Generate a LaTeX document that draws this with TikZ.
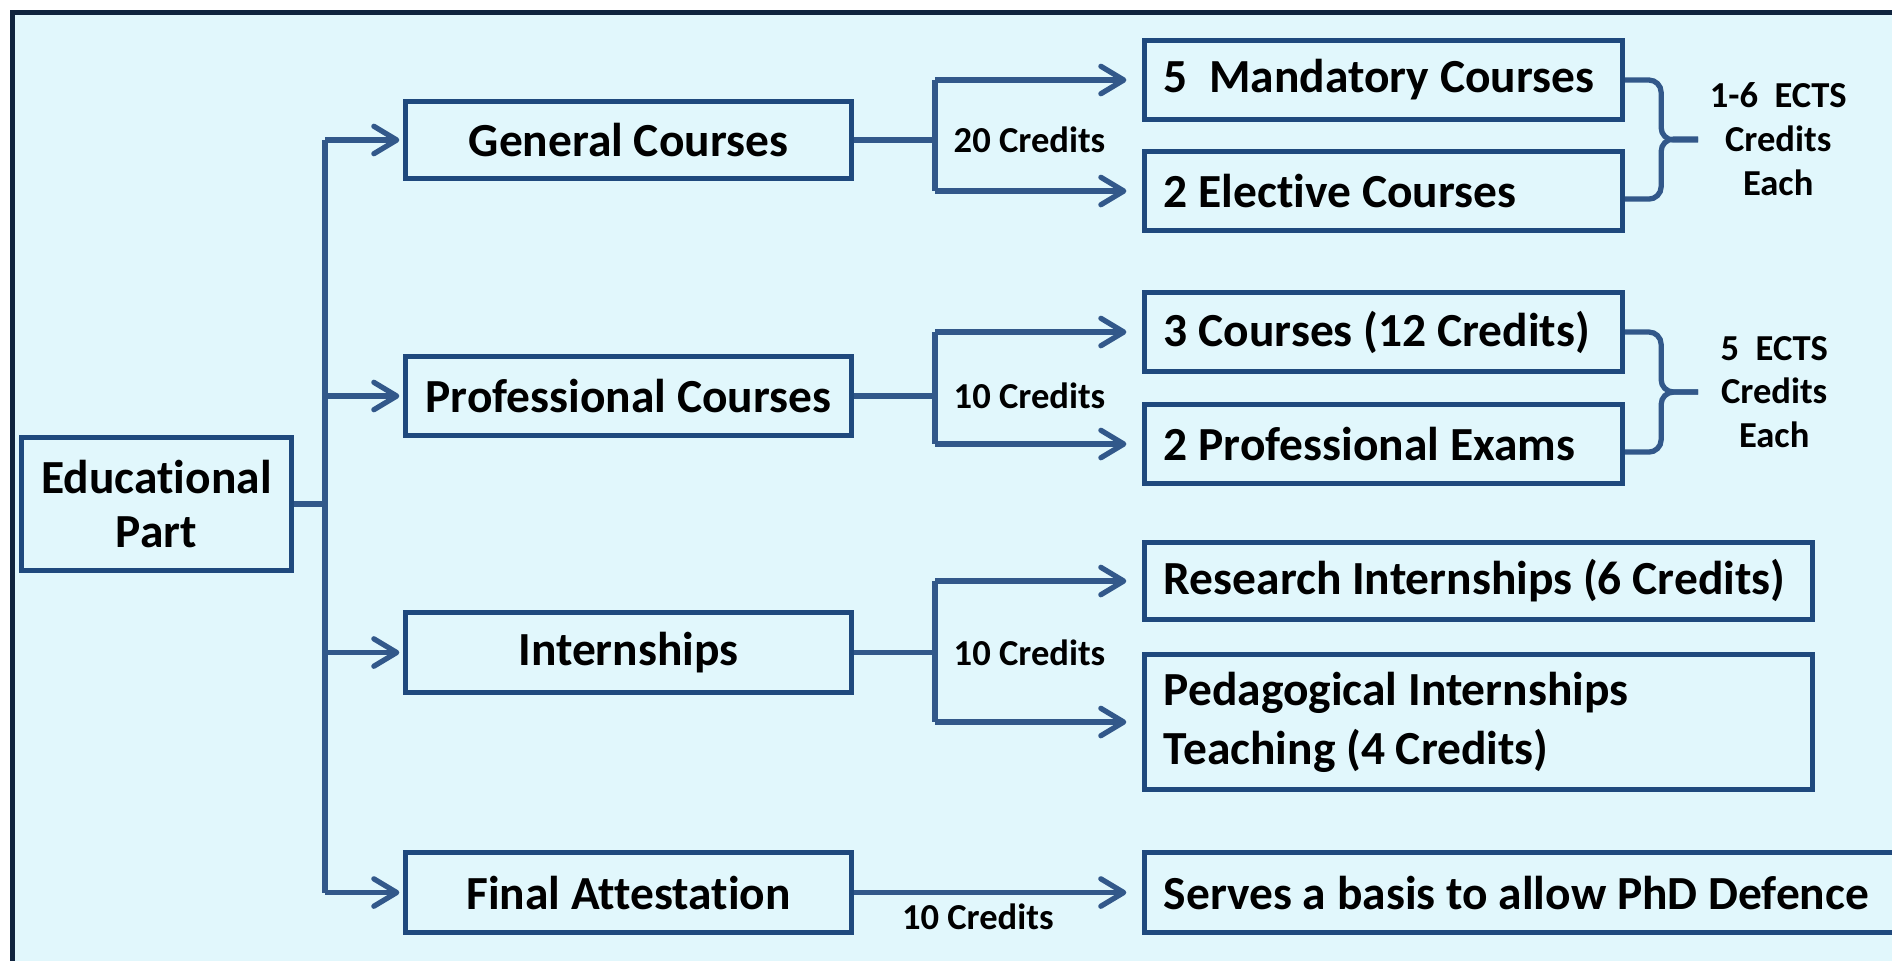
\documentclass[tikz,border=0pt]{standalone}
\usepackage{fontspec}
\setmainfont{Carlito}[Ligatures=NoCommon]
\usetikzlibrary{arrows.meta,positioning}

\begin{document}
\begin{tikzpicture}[x=0.01cm,y=-0.01cm,
  box/.style={draw=boxcolor,line width=1.42pt,fill=fillcolor,inner sep=0pt,
    font=\bfseries\fontsize{13.5}{15.4}\selectfont,align=flush center},
  leftbox/.style={box,align=flush left,inner xsep=0.195cm,inner ysep=0pt},
  link/.style={draw=linecolor,line width=1.5pt},
  arrow/.style={link,-{Straight Barb[length=6.5pt,width=7.8pt,round]}},
  credit/.style={inner sep=0pt,font=\bfseries\fontsize{10.4}{12.5}\selectfont},
  note/.style={credit,align=flush center},
  brace/.style={link,rounded corners=3.5pt}]
\definecolor{fillcolor}{RGB}{225,247,252}
\definecolor{boxcolor}{RGB}{31,73,125}
\definecolor{linecolor}{RGB}{50,88,138}
\definecolor{framecolor}{RGB}{16,36,62}
\useasboundingbox (0,0) rectangle (1892,960);
\clip (0,0) rectangle (1892,960);
\fill[white] (0,0) rectangle (1892,960);
\draw[draw=framecolor,fill=fillcolor,line width=1.42pt] (12.5,12.5) rectangle (1960,1010);
\node[box,minimum width=2.70cm,minimum height=1.33cm] (edu) at (156.5,504) {Educational\\Part};
\node[box,minimum width=4.46cm,minimum height=0.77cm] (gen) at (628.5,140) {General Courses};
\node[box,minimum width=4.46cm,minimum height=0.79cm] (prof) at (628.5,396) {Professional Courses};
\node[box,minimum width=4.46cm,minimum height=0.80cm] (intern) at (628.5,652.5) {Internships};
\node[box,minimum width=4.46cm,minimum height=0.80cm] (final) at (628.5,892.5) {Final Attestation};
\node[leftbox,text width=4.39cm,minimum height=0.79cm] (mand) at (1383.5,80) {5\ \ Mandatory Courses};
\node[leftbox,text width=4.39cm,minimum height=0.79cm] (elec) at (1383.5,191) {2 Elective Courses};
\node[leftbox,text width=4.39cm,minimum height=0.79cm] (three) at (1383.5,332) {3 Courses (12 Credits)};
\node[leftbox,text width=4.39cm,minimum height=0.79cm] (exams) at (1383.5,444) {2 Professional Exams};
\node[leftbox,text width=6.29cm,minimum height=0.77cm] (research) at (1478.5,581) {Research Internships (6 Credits)};
\node[leftbox,text width=6.29cm,minimum height=1.35cm,font=\bfseries\fontsize{13.5}{16.8}\selectfont] (peda) at (1478.5,722) {Pedagogical Internships\\Teaching (4 Credits)};
\node[leftbox,text width=7.29cm,minimum height=0.80cm] (serves) at (1528.5,892.5) {Serves a basis to allow PhD Defence};
\coordinate (split) at (325,504);
\draw[link] (edu.east) -- (split);
\draw[link] (split |- gen.west) -- (split |- final.west);
\foreach \n in {gen,prof,intern,final}
  \draw[arrow,shorten >=1pt] (split |- \n.west) -- (\n.west);
\coordinate (gbus) at (935,140);
\coordinate (pbus) at (935,396);
\coordinate (ibus) at (935,652.5);
\draw[link] (gen.east) -- (gbus);
\draw[link] (gbus |- mand.west) -- (gbus |- elec.west);
\draw[arrow,shorten >=4.4pt] (gbus |- mand.west) -- (mand.west);
\draw[arrow,shorten >=4.4pt] (gbus |- elec.west) -- (elec.west);
\node[credit,right=0.18cm of gbus] (gcred) {20 Credits};
\draw[link] (prof.east) -- (pbus);
\draw[link] (pbus |- three.west) -- (pbus |- exams.west);
\draw[arrow,shorten >=4.4pt] (pbus |- three.west) -- (three.west);
\draw[arrow,shorten >=4.4pt] (pbus |- exams.west) -- (exams.west);
\node[credit,right=0.18cm of pbus] (pcred) {10 Credits};
\draw[link] (intern.east) -- (ibus);
\draw[link] (ibus |- research.west) -- (ibus |- peda.west);
\draw[arrow,shorten >=4.4pt] (ibus |- research.west) -- (research.west);
\draw[arrow,shorten >=4.4pt] (ibus |- peda.west) -- (peda.west);
\node[credit,right=0.18cm of ibus] (icred) {10 Credits};
\draw[arrow,shorten >=4.4pt] (final.east) -- (serves.west)
  node[credit,below=2.5pt,pos=0.43] (fcred) {10 Credits};
\draw[brace] (mand.east) -- ++(36,0) -- ++(0,60) -- ++(37,0);
\draw[brace] ([yshift=-2.3pt]elec.east) -- ++(36,0) -- ++(0,-60) -- ++(37,0)
  node[note,xshift=0.8cm] (gnote) {1-6\ \ ECTS\\Credits\\Each};
\draw[brace] (three.east) -- ++(36,0) -- ++(0,60) -- ++(37,0);
\draw[brace] ([yshift=-2.3pt]exams.east) -- ++(36,0) -- ++(0,-60) -- ++(37,0)
  node[note,xshift=0.76cm] (pnote) {5\ \ ECTS\\Credits\\Each};
\end{tikzpicture}
\end{document}
